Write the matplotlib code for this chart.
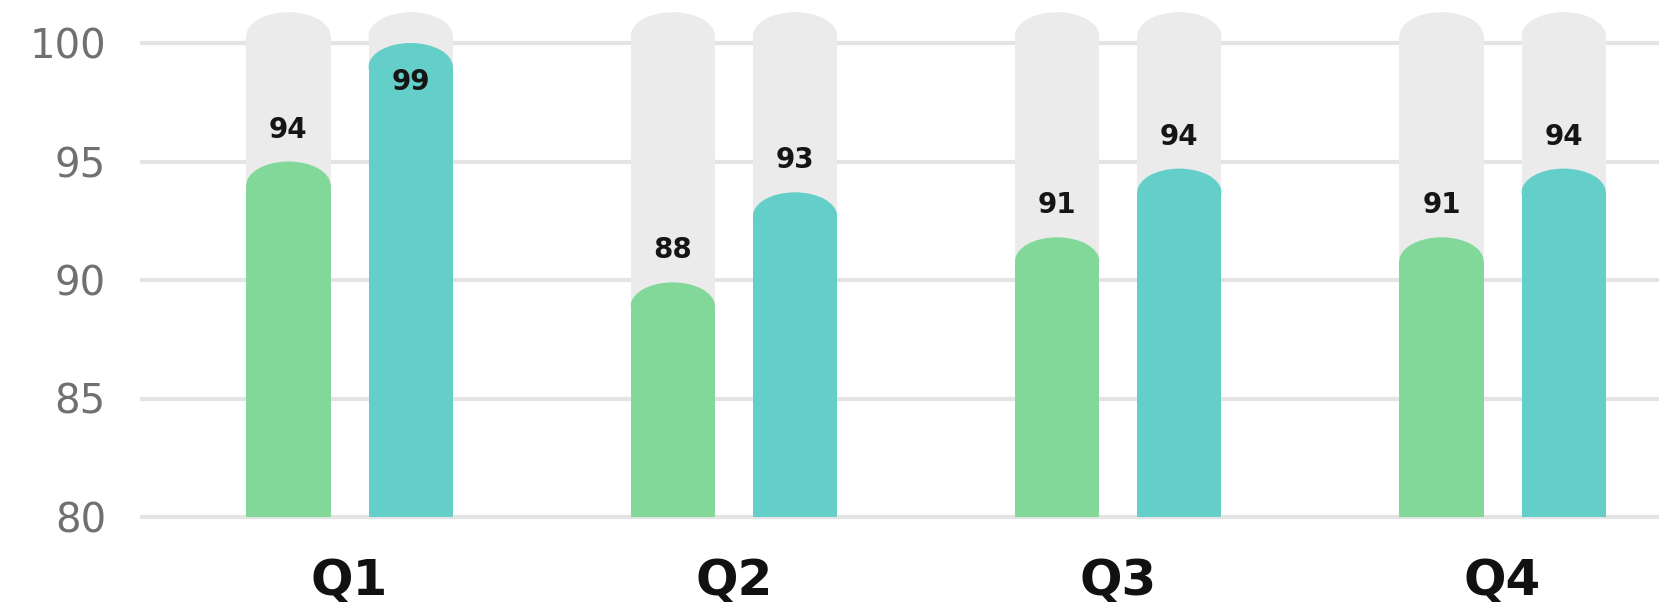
import matplotlib
matplotlib.use("Agg")
import matplotlib.pyplot as plt
from matplotlib.patches import Ellipse
import numpy as np


QUARTERS = ["Q1", "Q2", "Q3", "Q4"]

# bar heights as drawn (top of the rounded cap) and the labels printed on them
GREEN_HEIGHTS = [95.0, 89.9, 91.8, 91.8]
TEAL_HEIGHTS = [100.0, 93.7, 94.7, 94.7]
GREEN_LABELS = [94, 88, 91, 91]
TEAL_LABELS = [99, 93, 94, 94]

TRACK_HEIGHT = 101.3
Y_TICKS = [80, 85, 90, 95, 100]

GREEN = "#82d898"
TEAL = "#63cfc8"
TRACK = "#ebebeb"
GRID = "#e4e4e4"

BASE = 80
BAR_WIDTH = 0.219
OFFSET = 0.159
CAP = 1.0


def rounded_bars(ax, xs, tops, color, zorder):
    tops = np.asarray(tops, dtype=float)
    ax.bar(xs, tops - CAP - BASE, bottom=BASE, width=BAR_WIDTH,
           color=color, linewidth=0, zorder=zorder)
    for x, top in zip(xs, tops):
        ax.add_patch(Ellipse((x, top - CAP), BAR_WIDTH, 2 * CAP,
                             facecolor=color, edgecolor="none", zorder=zorder))


def main():
    fig = plt.figure(figsize=(16.59, 6.11), dpi=100)
    px_per_unit = 23.7
    y_bottom = 517
    y_top_val = 102.0
    ax_h = (y_top_val - BASE) * px_per_unit
    ax = fig.add_axes([142 / 1659, (611 - y_bottom) / 611, 1 - 142 / 1659, ax_h / 611])

    x = np.arange(len(QUARTERS))
    xg = x - OFFSET
    xt = x + OFFSET

    rounded_bars(ax, xg, [TRACK_HEIGHT] * len(x), TRACK, 2)
    rounded_bars(ax, xt, [TRACK_HEIGHT] * len(x), TRACK, 2)
    rounded_bars(ax, xg, GREEN_HEIGHTS, GREEN, 3)
    rounded_bars(ax, xt, TEAL_HEIGHTS, TEAL, 3)

    for xs, tops, labels in [(xg, GREEN_HEIGHTS, GREEN_LABELS),
                             (xt, TEAL_HEIGHTS, TEAL_LABELS)]:
        for xi, top, lab in zip(xs, tops, labels):
            y = top + 1.35
            if y > 99.5:
                y = top - 1.65
            ax.text(xi, y, str(lab), ha="center", va="center",
                    fontsize=20, fontweight="bold", color="#151515", zorder=5)

    ax.set_xlim(-0.540, 3.407)
    ax.set_ylim(BASE, y_top_val)
    ax.set_yticks(Y_TICKS)
    ax.set_yticklabels([str(t) for t in Y_TICKS], fontsize=29, color="#707070")
    ax.tick_params(axis="y", length=0, pad=26)

    ax.set_xticks(x)
    ax.set_xticklabels(QUARTERS, fontsize=36, fontweight="bold", color="#111111")
    ax.tick_params(axis="x", length=0, pad=29)

    for t in Y_TICKS:
        ax.axhline(t, color=GRID, linewidth=3, zorder=1, clip_on=False)

    for side in ["top", "right", "left", "bottom"]:
        ax.spines[side].set_visible(False)

    fig.savefig("out.png", dpi=100)
    plt.close(fig)


if __name__ == "__main__":
    main()
